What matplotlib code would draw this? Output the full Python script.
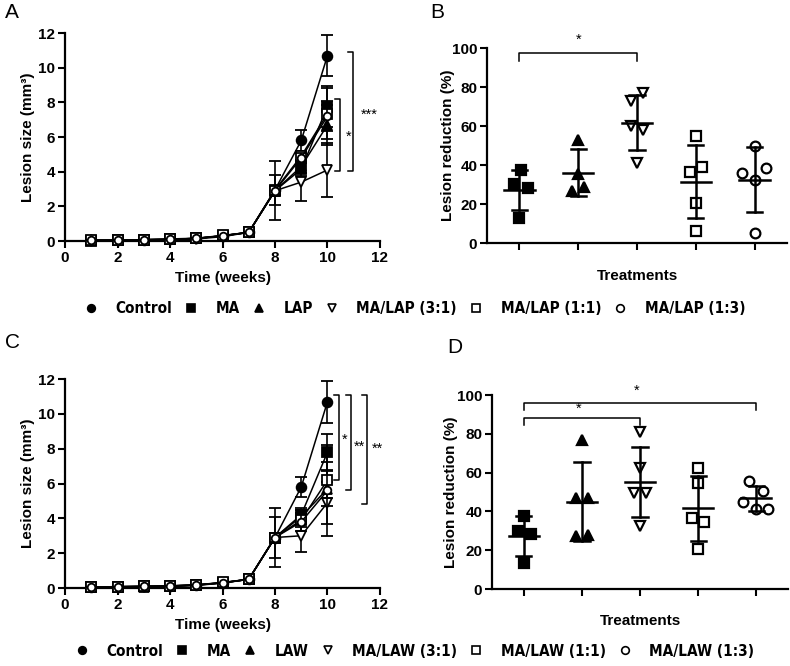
import matplotlib
matplotlib.use("Agg")
import matplotlib.pyplot as plt
from matplotlib.lines import Line2D
from matplotlib import font_manager
from matplotlib.font_manager import FontProperties
import numpy as np

plt.rcParams['font.family'] = ['Liberation Sans', 'DejaVu Sans']


def find_narrow_bold():
    prefs = ["LiberationSansNarrow-Bold", "ArialNarrow", "DejaVuSansCondensed-Bold",
             "RobotoCondensed-Bold", "OpenSans_Condensed-Bold", "OpenSansCondensed-Bold"]
    files = [f.fname for f in font_manager.fontManager.ttflist]
    for p in prefs:
        for fn in files:
            base = fn.split('/')[-1].replace(' ', '')
            if base.startswith(p) and 'Italic' not in base and 'Oblique' not in base:
                return fn
    for fn in files:
        base = fn.split('/')[-1]
        if ('Narrow' in base or 'Condensed' in base) and 'Bold' in base \
                and 'Italic' not in base and 'Oblique' not in base:
            return fn
    return None


NARROW_FILE = find_narrow_bold()

# ---------------- data ----------------
weeks = [1, 2, 3, 4, 5, 6, 7, 8, 9, 10]

# Panel A (LAP)
A_labels = ["Control", "MA", "LAP", "MA/LAP (3:1)", "MA/LAP (1:1)", "MA/LAP (1:3)"]
A_control = [0.05, 0.05, 0.08, 0.10, 0.15, 0.30, 0.50, 2.95, 5.80, 10.70]
A_ma      = [0.03, 0.04, 0.06, 0.10, 0.15, 0.30, 0.50, 2.90, 4.15, 7.75]
A_lap     = [0.04, 0.04, 0.07, 0.09, 0.15, 0.30, 0.50, 2.90, 4.30, 6.70]
A_31      = [0.03, 0.03, 0.05, 0.05, 0.12, 0.25, 0.50, 2.90, 3.40, 4.10]
A_11      = [0.04, 0.05, 0.08, 0.12, 0.16, 0.32, 0.50, 2.95, 4.90, 7.35]
A_13      = [0.05, 0.05, 0.08, 0.10, 0.15, 0.30, 0.50, 2.90, 4.80, 7.20]
A_control_sd = [0, 0, 0, 0, 0, 0, 0, 0.85, 0.60, 1.20]
A_ma_sd      = [0, 0, 0, 0, 0, 0, 0, 1.70, 0.40, 1.20]
A_lap_sd     = [0, 0, 0, 0, 0, 0, 0, 0.25, 0.40, 1.15]
A_31_sd      = [0, 0, 0, 0, 0, 0, 0, 0.25, 1.10, 1.55]
A_11_sd      = [0, 0, 0, 0, 0, 0, 0, 0.25, 0.30, 1.45]
A_13_sd      = [0, 0, 0, 0, 0, 0, 0, 0.25, 0.30, 0.85]

# Panel C (LAW)
C_labels = ["Control", "MA", "LAW", "MA/LAW (3:1)", "MA/LAW (1:1)", "MA/LAW (1:3)"]
C_control = [0.05, 0.08, 0.10, 0.12, 0.18, 0.30, 0.50, 2.90, 5.80, 10.70]
C_ma      = [0.04, 0.07, 0.09, 0.12, 0.18, 0.30, 0.50, 2.90, 4.20, 7.80]
C_law     = [0.04, 0.06, 0.08, 0.10, 0.16, 0.30, 0.50, 2.90, 4.10, 5.70]
C_31      = [0.03, 0.05, 0.07, 0.08, 0.15, 0.28, 0.50, 2.90, 3.00, 4.90]
C_11      = [0.05, 0.08, 0.10, 0.12, 0.18, 0.32, 0.50, 2.90, 3.90, 6.20]
C_13      = [0.05, 0.07, 0.09, 0.11, 0.17, 0.30, 0.50, 2.90, 3.80, 5.60]
C_control_sd = [0, 0, 0, 0, 0, 0, 0, 1.70, 0.60, 1.20]
C_ma_sd      = [0, 0, 0, 0, 0, 0, 0, 0.25, 0.40, 1.05]
C_law_sd     = [0, 0, 0, 0, 0, 0, 0, 0.25, 0.40, 1.00]
C_31_sd      = [0, 0, 0, 0, 0, 0, 0, 1.20, 0.95, 1.20]
C_11_sd      = [0, 0, 0, 0, 0, 0, 0, 0.25, 0.40, 1.05]
C_13_sd      = [0, 0, 0, 0, 0, 0, 0, 0.25, 0.50, 2.60]

# Panel B (lesion reduction %, LAP)
B_ma  = [37.6, 30.3, 28.2, 12.8]
B_lap = [53.0, 35.6, 26.5, 28.7]
B_31  = [77.0, 73.0, 60.0, 58.0, 41.0]
B_11  = [55.0, 36.5, 39.0, 20.5, 6.0]
B_13  = [50.0, 36.0, 38.5, 32.5, 5.0]

# Panel D (lesion reduction %, LAW)
D_ma  = [37.8, 29.9, 28.4, 13.2]
D_law = [76.8, 46.7, 46.7, 27.3, 27.6]
D_31  = [80.8, 62.5, 49.7, 49.7, 32.5]
D_11  = [62.2, 54.5, 36.5, 34.5, 20.5]
D_13  = [55.8, 50.7, 45.0, 41.2, 41.2]

# horizontal jitter of the points inside each column (layout)
B_jit = [[0.03, -0.1, 0.14, 0.0], [0.0, 0.0, -0.1, 0.1], [0.11, -0.1, -0.1, 0.1, 0.0],
         [0.0, -0.1, 0.1, 0.0, 0.0], [0.0, -0.22, 0.2, 0.0, 0.0]]
D_jit = [[0.0, -0.1, 0.12, 0.0], [0.0, -0.1, 0.1, -0.1, 0.1], [0.0, 0.0, -0.1, 0.1, 0.0],
         [0.0, 0.0, -0.1, 0.1, 0.0], [-0.12, 0.12, -0.22, 0.0, 0.2]]

markers = ['o', 's', '^', 'v', 's', 'o']
faces = ['black', 'black', 'black', 'white', 'white', 'white']
line_ms = [7, 7, 7, 7, 7.5, 5.5]

# ---------------- figure ----------------
fig = plt.figure(figsize=(7.9, 6.66), dpi=100)

TICK_SIZE = 11
LABEL_SIZE = 11


def style_axes(ax):
    for s in ['top', 'right']:
        ax.spines[s].set_visible(False)
    for s in ['left', 'bottom']:
        ax.spines[s].set_linewidth(1.6)
    ax.tick_params(width=1.5, length=5, direction='out', pad=2, labelsize=TICK_SIZE)
    for lab in ax.get_xticklabels() + ax.get_yticklabels():
        lab.set_fontweight('bold')


def growth_panel(ax, series, sds, ylabel_x):
    for i, (y, e) in enumerate(zip(series, sds)):
        ax.errorbar(weeks, y, yerr=e, color='black', lw=1.1, elinewidth=1.2,
                    capsize=4, capthick=1.2, marker=markers[i], ms=line_ms[i],
                    mfc=faces[i], mec='black', mew=1.3, clip_on=False, zorder=3 + i)
    ax.set_xlim(0, 12)
    ax.set_ylim(0, 12)
    ax.set_xticks(range(0, 13, 2))
    ax.set_yticks(range(0, 13, 2))
    style_axes(ax)
    ax.set_xlabel("Time (weeks)", fontsize=LABEL_SIZE, fontweight='bold')
    ax.set_ylabel("Lesion size (mm³)", fontsize=LABEL_SIZE, fontweight='bold')
    ax.xaxis.set_label_coords(0.5, -0.145)
    ax.yaxis.set_label_coords(ylabel_x, 0.5)


def bracket_v(ax, x, y0, y1, dx, text, tx, ty):
    ax.plot([x - dx, x, x, x - dx], [y1, y1, y0, y0], color='black', lw=1.1, clip_on=False)
    ax.text(tx, ty, text, ha='center', va='center', fontsize=10.5, clip_on=False)


def scatter_panel(ax, groups, jit, ylabel_x, xlabel_y):
    for i, (vals, jj) in enumerate(zip(groups, jit)):
        m = i + 1
        xs = np.array(jj) + i
        ax.plot(xs, vals, ls='none', marker=markers[m], ms=7, mfc=faces[m], mec='black',
                mew=1.6, clip_on=False, zorder=3)
        mean = np.mean(vals)
        sd = np.std(vals, ddof=1)
        ax.plot([i - 0.26, i + 0.26], [mean, mean], color='black', lw=1.8, zorder=4)
        ax.plot([i, i], [mean - sd, mean + sd], color='black', lw=1.8, zorder=4)
        for yy in (mean - sd, mean + sd):
            ax.plot([i - 0.13, i + 0.13], [yy, yy], color='black', lw=1.8, zorder=4)
    ax.set_xlim(-0.55, 4.55)
    ax.set_ylim(0, 100)
    ax.set_xticks(range(5))
    ax.set_xticklabels([])
    ax.set_yticks(range(0, 101, 20))
    style_axes(ax)
    ax.set_xlabel("Treatments", fontsize=LABEL_SIZE, fontweight='bold')
    ax.set_ylabel("Lesion reduction (%)", fontsize=LABEL_SIZE, fontweight='bold')
    ax.xaxis.set_label_coords(0.5, xlabel_y)
    ax.yaxis.set_label_coords(ylabel_x, 0.5)


def bracket_h(ax, x0, x1, ytop, ybot, text, tx, ty):
    ax.plot([x0, x0, x1, x1], [ybot, ytop, ytop, ybot], color='black', lw=1.1, clip_on=False)
    ax.text(tx, ty, text, ha='center', va='center', fontsize=10.5, clip_on=False)


# Panel A
axA = fig.add_axes([0.0823, 0.6381, 0.3987, 0.3123])
growth_panel(axA, [A_control, A_ma, A_lap, A_31, A_11, A_13],
             [A_control_sd, A_ma_sd, A_lap_sd, A_31_sd, A_11_sd, A_13_sd], -0.095)
bracket_v(axA, 10.48, 4.05, 8.2, 0.2, "*", 10.8, 6.0)
bracket_v(axA, 10.97, 4.05, 10.9, 0.2, "***", 11.6, 7.3)

# Panel C
axC = fig.add_axes([0.0823, 0.1171, 0.3987, 0.3138])
growth_panel(axC, [C_control, C_ma, C_law, C_31, C_11, C_13],
             [C_control_sd, C_ma_sd, C_law_sd, C_31_sd, C_11_sd, C_13_sd], -0.095)
bracket_v(axC, 10.44, 6.2, 11.1, 0.2, "*", 10.65, 8.5)
bracket_v(axC, 10.90, 5.6, 11.1, 0.2, "**", 11.2, 8.1)
bracket_v(axC, 11.50, 4.8, 11.1, 0.2, "**", 11.9, 8.0)

# Panel B
axB = fig.add_axes([0.6165, 0.6351, 0.3797, 0.2928])
scatter_panel(axB, [B_ma, B_lap, B_31, B_11, B_13], B_jit, -0.107, -0.135)
bracket_h(axB, 0, 2, 97.4, 93.5, "*", 1.0, 104)

# Panel D
axD = fig.add_axes([0.6228, 0.1156, 0.3747, 0.2913])
scatter_panel(axD, [D_ma, D_law, D_31, D_11, D_13], D_jit, -0.115, -0.13)
bracket_h(axD, 0, 4, 96.0, 92.3, "*", 1.95, 102)
bracket_h(axD, 0, 2, 88.0, 84.5, "*", 0.95, 92.8)

# panel letters
for lbl, x, y in [("A", 5, 3), ("B", 430, 3), ("C", 5, 333), ("D", 447, 338)]:
    fig.text(x / 790, 1 - y / 666, lbl, fontsize=15, va='top', ha='left')


if NARROW_FILE:
    LEG_PROP = FontProperties(fname=NARROW_FILE, size=11)
else:
    LEG_PROP = FontProperties(family='Liberation Sans', weight='bold', size=10)


def legend_row(labels, ycenter):
    handles = [Line2D([], [], ls='none', marker=markers[i], ms=5.5, mfc=faces[i],
                      mec='black', mew=1.2) for i in range(6)]
    fig.legend(handles, labels, loc='center', bbox_to_anchor=(415 / 790, 1 - ycenter / 666),
               ncol=6, frameon=False, handlelength=0.8, handletextpad=1.2,
               columnspacing=0.85, prop=LEG_PROP)


legend_row(A_labels, 309)
legend_row(C_labels, 651)

fig.savefig("out.png", dpi=100)
